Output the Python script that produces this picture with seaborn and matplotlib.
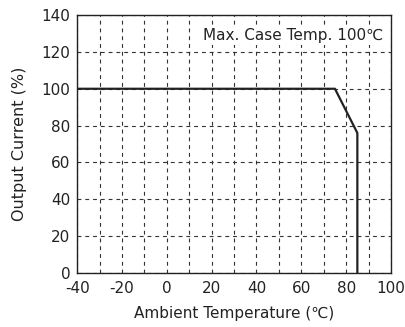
import matplotlib
matplotlib.use("Agg")
import matplotlib.pyplot as plt
import seaborn as sns
import pandas as pd
from matplotlib.ticker import MultipleLocator

temperature = [-40, 75, 85, 85]
current = [100, 100, 76, 0]
x_ticks = [-40, -20, 0, 20, 40, 60, 80, 100]
y_ticks = [0, 20, 40, 60, 80, 100, 120, 140]

sns.set_style("white")
plt.rcParams['font.family'] = ['DejaVu Sans', 'Noto Sans CJK JP']
plt.rcParams['axes.unicode_minus'] = False

df = pd.DataFrame({"t": temperature, "c": current})

fig = plt.figure(figsize=(4.06, 3.27), dpi=100)
ax = fig.add_axes([0.19, 0.165, 0.773, 0.789])
sns.lineplot(data=df, x="t", y="c", sort=False, estimator=None, color="#222222", linewidth=1.6, ax=ax)

ax.set_xlim(-40, 100)
ax.set_ylim(0, 140)
ax.set_xticks(x_ticks)
ax.set_yticks(y_ticks)
ax.xaxis.set_minor_locator(MultipleLocator(10))
ax.grid(which="both", axis="x", linestyle=(0, (3.5, 3.5)), color="#333333", linewidth=0.8)
ax.grid(which="major", axis="y", linestyle=(0, (3.5, 3.5)), color="#333333", linewidth=0.8)
ax.set_axisbelow(True)
ax.tick_params(which="both", length=0, labelsize=11, colors="#222222")
ax.tick_params(axis="x", pad=6)
ax.tick_params(axis="y", pad=5)
for s in ax.spines.values():
    s.set_color("#222222")
    s.set_linewidth(1.0)
ax.set_xlabel("Ambient Temperature (℃)", fontsize=11, color="#222222", labelpad=7)
ax.set_ylabel("Output Current (%)", fontsize=11.5, color="#222222", labelpad=10)
ax.text(0.975, 0.92, "Max. Case Temp. 100℃", transform=ax.transAxes, ha="right", va="center",
        fontsize=11, color="#222222",
        bbox=dict(facecolor="white", edgecolor="none", pad=1))

fig.savefig("out.png", dpi=100)
